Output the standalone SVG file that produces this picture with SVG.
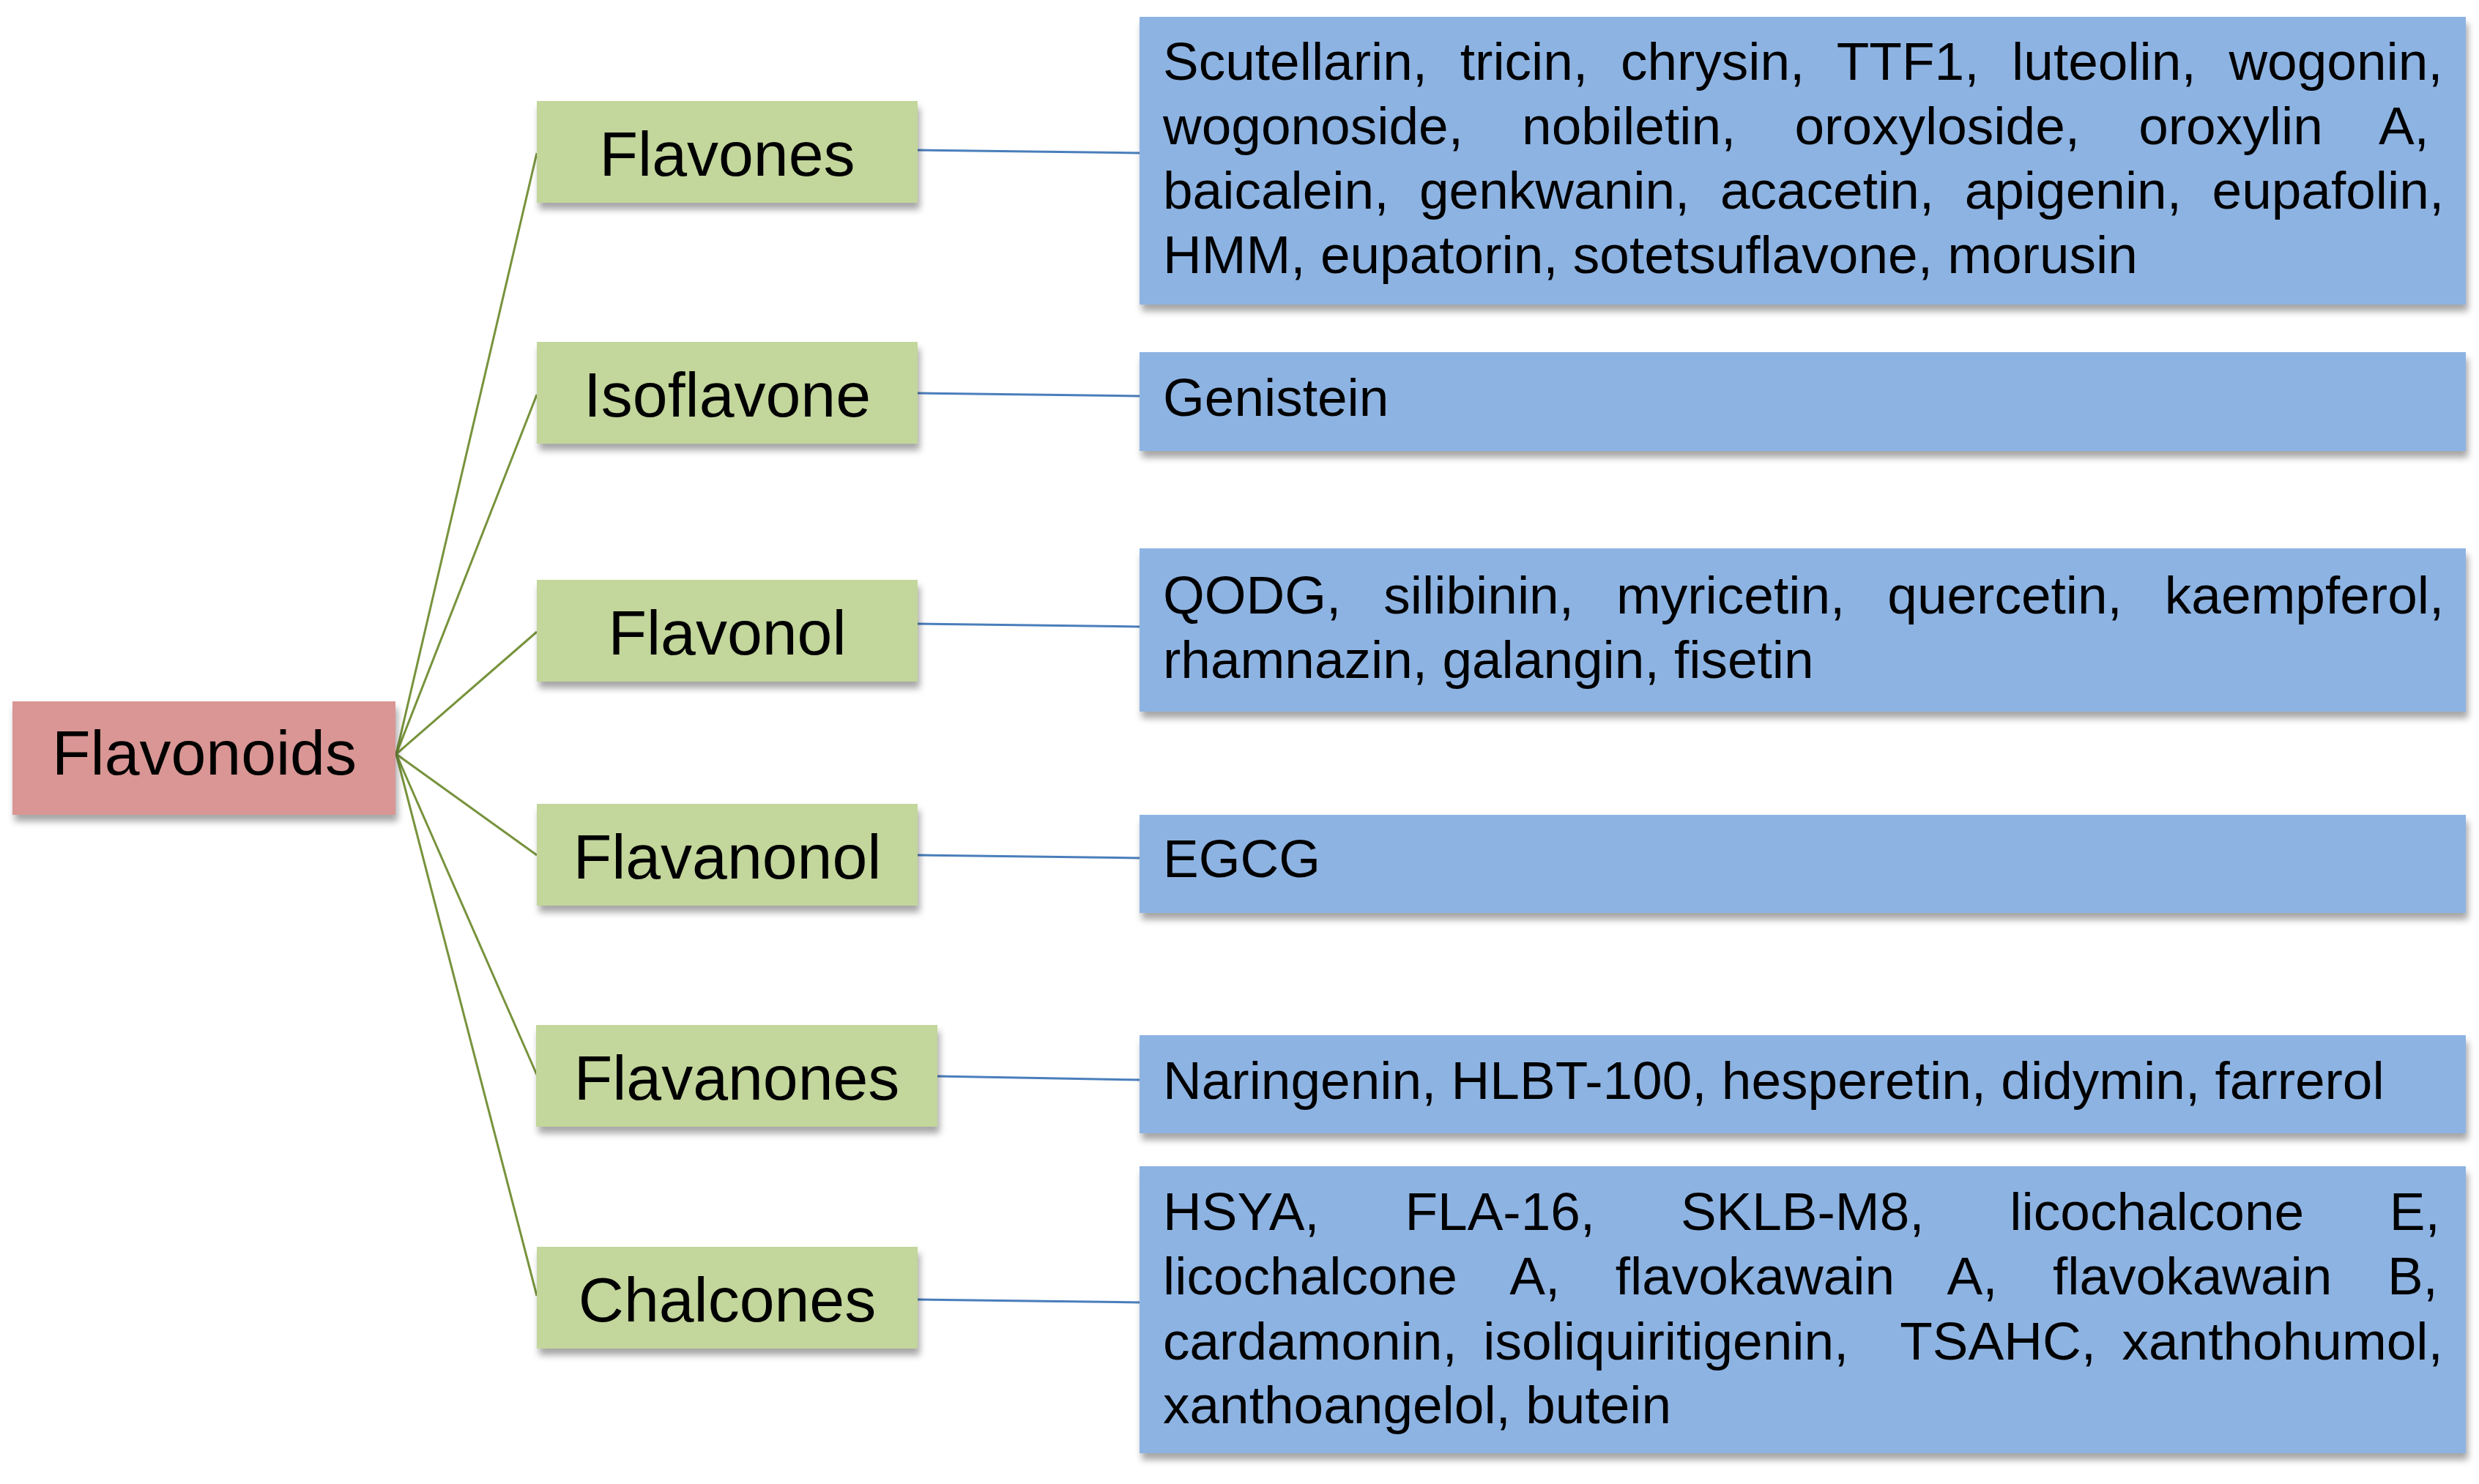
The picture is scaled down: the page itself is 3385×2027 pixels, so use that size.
<svg xmlns="http://www.w3.org/2000/svg" width="3385" height="2027" viewBox="0 0 3385 2027">
<defs>
<filter id="sh" x="-5%" y="-20%" width="110%" height="150%">
<feDropShadow dx="3" dy="9" stdDeviation="5" flood-color="#000" flood-opacity="0.35"/>
</filter>
</defs>
<style>
.root{fill:#D99694;filter:url(#sh)}
.cat{fill:#C3D69B;filter:url(#sh)}
.box{fill:#8DB3E2;filter:url(#sh)}
.lbl{font-family:"Liberation Sans",Arial,sans-serif;font-size:86px;fill:#000;text-anchor:middle}
.txt{font-family:"Liberation Sans",Arial,sans-serif;font-size:73px;fill:#000}
.gl{stroke:#77933C;stroke-width:3;fill:none}
.bl{stroke:#4A7EBB;stroke-width:3;fill:none}
</style>
<rect width="3385" height="2027" fill="#fff"/>
<g id="connectors">
<line class="gl" x1="541" y1="1030" x2="733" y2="209"/>
<line class="gl" x1="541" y1="1030" x2="733" y2="539"/>
<line class="gl" x1="541" y1="1030" x2="733" y2="863"/>
<line class="gl" x1="541" y1="1030" x2="733" y2="1168"/>
<line class="gl" x1="541" y1="1030" x2="733" y2="1468"/>
<line class="gl" x1="541" y1="1030" x2="733" y2="1770"/>
<line class="bl" x1="1253" y1="205" x2="1556" y2="209"/>
<line class="bl" x1="1253" y1="537" x2="1556" y2="541"/>
<line class="bl" x1="1253" y1="852" x2="1556" y2="856"/>
<line class="bl" x1="1253" y1="1168" x2="1556" y2="1172"/>
<line class="bl" x1="1280" y1="1470" x2="1556" y2="1475"/>
<line class="bl" x1="1253" y1="1775" x2="1556" y2="1779"/>
</g>
<g id="flavonoids">
<rect class="root" x="17" y="958" width="523" height="155"/>
<text class="lbl" x="279" y="1058">Flavonoids</text>
</g>
<g id="flavones">
<rect class="cat" x="733" y="138" width="520" height="139"/>
<text class="lbl" x="993" y="240">Flavones</text>
</g>
<g id="isoflavone">
<rect class="cat" x="733" y="467" width="520" height="139"/>
<text class="lbl" x="993" y="569">Isoflavone</text>
</g>
<g id="flavonol">
<rect class="cat" x="733" y="792" width="520" height="139"/>
<text class="lbl" x="993" y="894">Flavonol</text>
</g>
<g id="flavanonol">
<rect class="cat" x="733" y="1098" width="520" height="139"/>
<text class="lbl" x="993" y="1200">Flavanonol</text>
</g>
<g id="flavanones">
<rect class="cat" x="732" y="1400" width="548" height="139"/>
<text class="lbl" x="1006" y="1502">Flavanones</text>
</g>
<g id="chalcones">
<rect class="cat" x="733" y="1703" width="520" height="139"/>
<text class="lbl" x="993" y="1805">Chalcones</text>
</g>
<g id="flavones-list">
<rect class="box" x="1556" y="23" width="1811" height="393"/>
<text class="txt" x="1588" y="109" word-spacing="24.4">Scutellarin, tricin, chrysin, TTF1, luteolin, wogonin,</text>
<text class="txt" x="1588" y="197" word-spacing="59.9">wogonoside, nobiletin, oroxyloside, oroxylin A,</text>
<text class="txt" x="1588" y="285" word-spacing="21.3">baicalein, genkwanin, acacetin, apigenin, eupafolin,</text>
<text class="txt" x="1588" y="373">HMM, eupatorin, sotetsuflavone, morusin</text>
</g>
<g id="isoflavone-list">
<rect class="box" x="1556" y="481" width="1811" height="135"/>
<text class="txt" x="1588" y="568">Genistein</text>
</g>
<g id="flavonol-list">
<rect class="box" x="1556" y="749" width="1811" height="223"/>
<text class="txt" x="1588" y="838" word-spacing="37.7">QODG, silibinin, myricetin, quercetin, kaempferol,</text>
<text class="txt" x="1588" y="926">rhamnazin, galangin, fisetin</text>
</g>
<g id="flavanonol-list">
<rect class="box" x="1556" y="1113" width="1811" height="134"/>
<text class="txt" x="1588" y="1198">EGCG</text>
</g>
<g id="flavanones-list">
<rect class="box" x="1556" y="1414" width="1811" height="134"/>
<text class="txt" x="1588" y="1501">Naringenin, HLBT-100, hesperetin, didymin, farrerol</text>
</g>
<g id="chalcones-list">
<rect class="box" x="1556" y="1593" width="1811" height="392"/>
<text class="txt" x="1588" y="1680" word-spacing="96.5">HSYA, FLA-16, SKLB-M8, licochalcone E,</text>
<text class="txt" x="1588" y="1768" word-spacing="55.2">licochalcone A, flavokawain A, flavokawain B,</text>
<text class="txt" x="1588" y="1857" word-spacing="15.3" xml:space="preserve">cardamonin, isoliquiritigenin,  TSAHC, xanthohumol,</text>
<text class="txt" x="1588" y="1944">xanthoangelol, butein</text>
</g>
</svg>
